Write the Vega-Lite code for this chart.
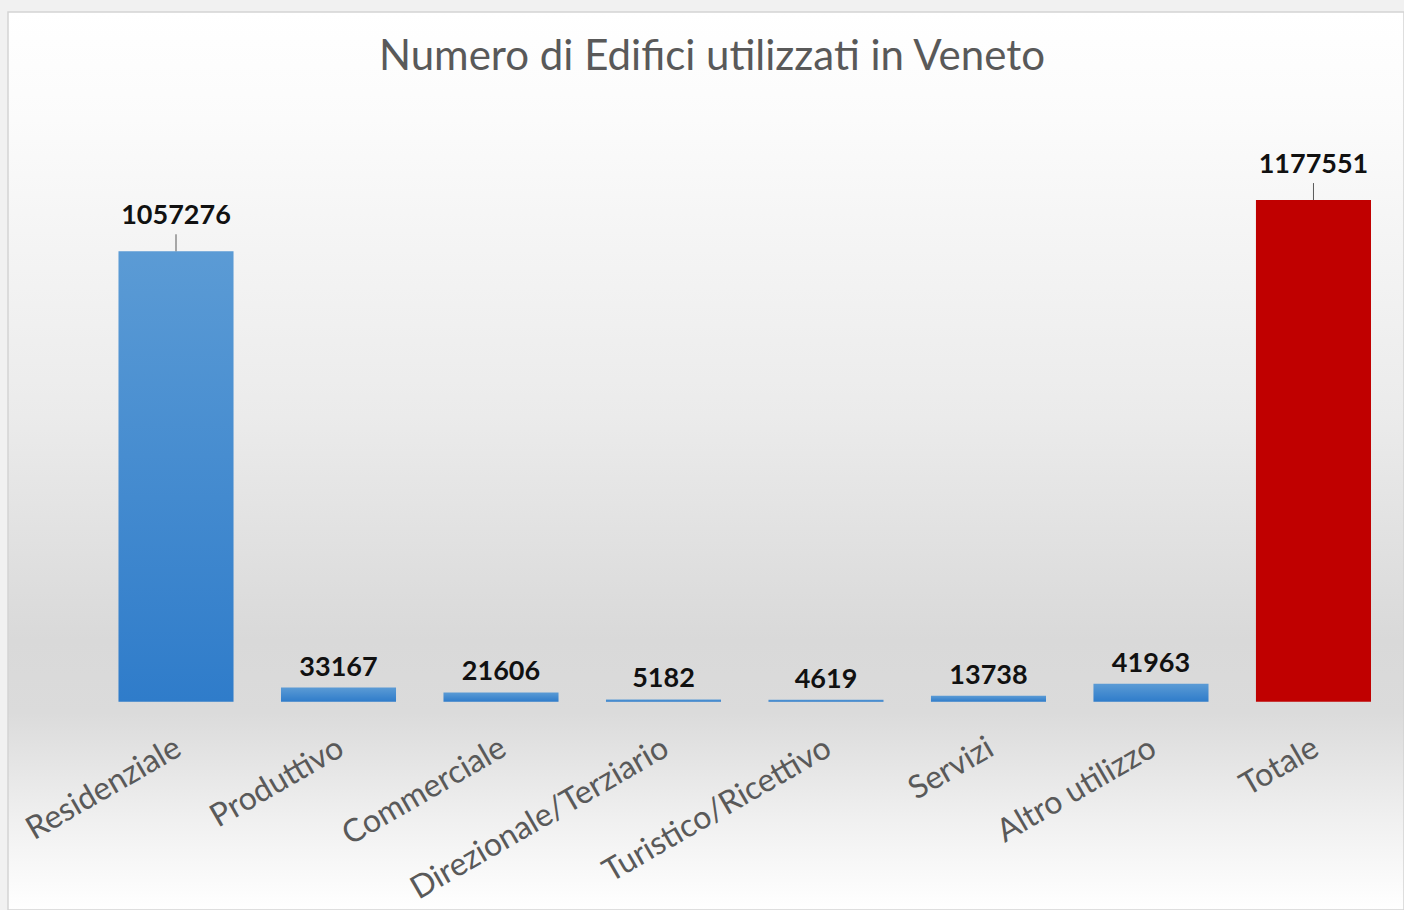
{
  "$schema": "https://vega.github.io/schema/vega-lite/v6.json",
  "width": 1396,
  "height": 898,
  "autosize": {"type": "none"},
  "padding": {"left": 8, "top": 12, "right": 0, "bottom": 0},
  "background": "#f1f1f1",
  "config": {
    "view": {
      "stroke": "#d4d4d4",
      "strokeWidth": 1.5,
      "fill": {
        "gradient": "linear",
        "x1": 0, "y1": 0, "x2": 0, "y2": 1,
        "stops": [
          {"offset": 0, "color": "#ffffff"},
          {"offset": 0.12, "color": "#fbfbfb"},
          {"offset": 0.45, "color": "#ebebeb"},
          {"offset": 0.7, "color": "#d9d9d9"},
          {"offset": 0.78, "color": "#dbdbdb"},
          {"offset": 0.9, "color": "#f0f0f0"},
          {"offset": 1, "color": "#ffffff"}
        ]
      }
    },
    "font": "Lato"
  },
  "title": {
    "text": "Numero di Edifici utilizzati in Veneto",
    "font": "Lato",
    "fontSize": 42,
    "fontWeight": "normal",
    "color": "#595959",
    "anchor": "middle",
    "frame": "group",
    "baseline": "alphabetic",
    "offset": -57,
    "dy": 43,
    "dx": 6
  },
  "data": {
    "values": [
      {"categoria": "Residenziale", "edifici": 1057276},
      {"categoria": "Produttivo", "edifici": 33167},
      {"categoria": "Commerciale", "edifici": 21606},
      {"categoria": "Direzionale/Terziario", "edifici": 5182},
      {"categoria": "Turistico/Ricettivo", "edifici": 4619},
      {"categoria": "Servizi", "edifici": 13738},
      {"categoria": "Altro utilizzo", "edifici": 41963},
      {"categoria": "Totale", "edifici": 1177551}
    ]
  },
  "encoding": {
    "x": {
      "field": "categoria",
      "type": "nominal",
      "sort": null,
      "scale": {"paddingInner": 0.292, "paddingOuter": 0.4415, "align": 0.77},
      "axis": {
        "title": null,
        "orient": "bottom",
        "offset": -208,
        "domain": false,
        "ticks": false,
        "labelAngle": -30,
        "labelAlign": "right",
        "labelBaseline": "top",
        "labelPadding": 30,
        "labelOffset": -5,
        "labelFont": "Lato",
        "labelFontSize": 32,
        "labelColor": "#595959",
        "labelOverlap": false,
        "labelBound": false,
        "labelLimit": 0
      }
    },
    "y": {
      "field": "edifici",
      "type": "quantitative",
      "scale": {"domain": [-489000, 1619000], "nice": false, "zero": false},
      "axis": null
    }
  },
  "layer": [
    {
      "transform": [{"filter": "datum.categoria !== 'Totale'"}],
      "mark": {
        "type": "bar",
        "fill": {
          "gradient": "linear",
          "x1": 0, "y1": 0, "x2": 0, "y2": 1,
          "stops": [
            {"offset": 0, "color": "#5b9bd5"},
            {"offset": 1, "color": "#2f7cca"}
          ]
        }
      },
      "encoding": {"y2": {"datum": 0}}
    },
    {
      "transform": [{"filter": "datum.categoria === 'Totale'"}],
      "mark": {"type": "bar", "fill": "#c00000"},
      "encoding": {"y2": {"datum": 0}}
    },
    {
      "transform": [{"filter": "datum.edifici < 100000"}],
      "mark": {
        "type": "text",
        "font": "Lato",
        "fontSize": 27,
        "fontWeight": "bold",
        "color": "#111111",
        "baseline": "alphabetic",
        "dy": -12
      },
      "encoding": {"text": {"field": "edifici", "type": "quantitative", "format": "d"}}
    },
    {
      "transform": [{"filter": "datum.edifici >= 100000"}],
      "mark": {
        "type": "text",
        "font": "Lato",
        "fontSize": 27,
        "fontWeight": "bold",
        "color": "#111111",
        "baseline": "alphabetic",
        "dy": -27
      },
      "encoding": {"text": {"field": "edifici", "type": "quantitative", "format": "d"}}
    },
    {
      "transform": [{"filter": "datum.edifici >= 100000"}],
      "mark": {"type": "rule", "color": "#595959", "strokeWidth": 1, "y2Offset": -17},
      "encoding": {"y2": {"field": "edifici"}}
    }
  ]
}
